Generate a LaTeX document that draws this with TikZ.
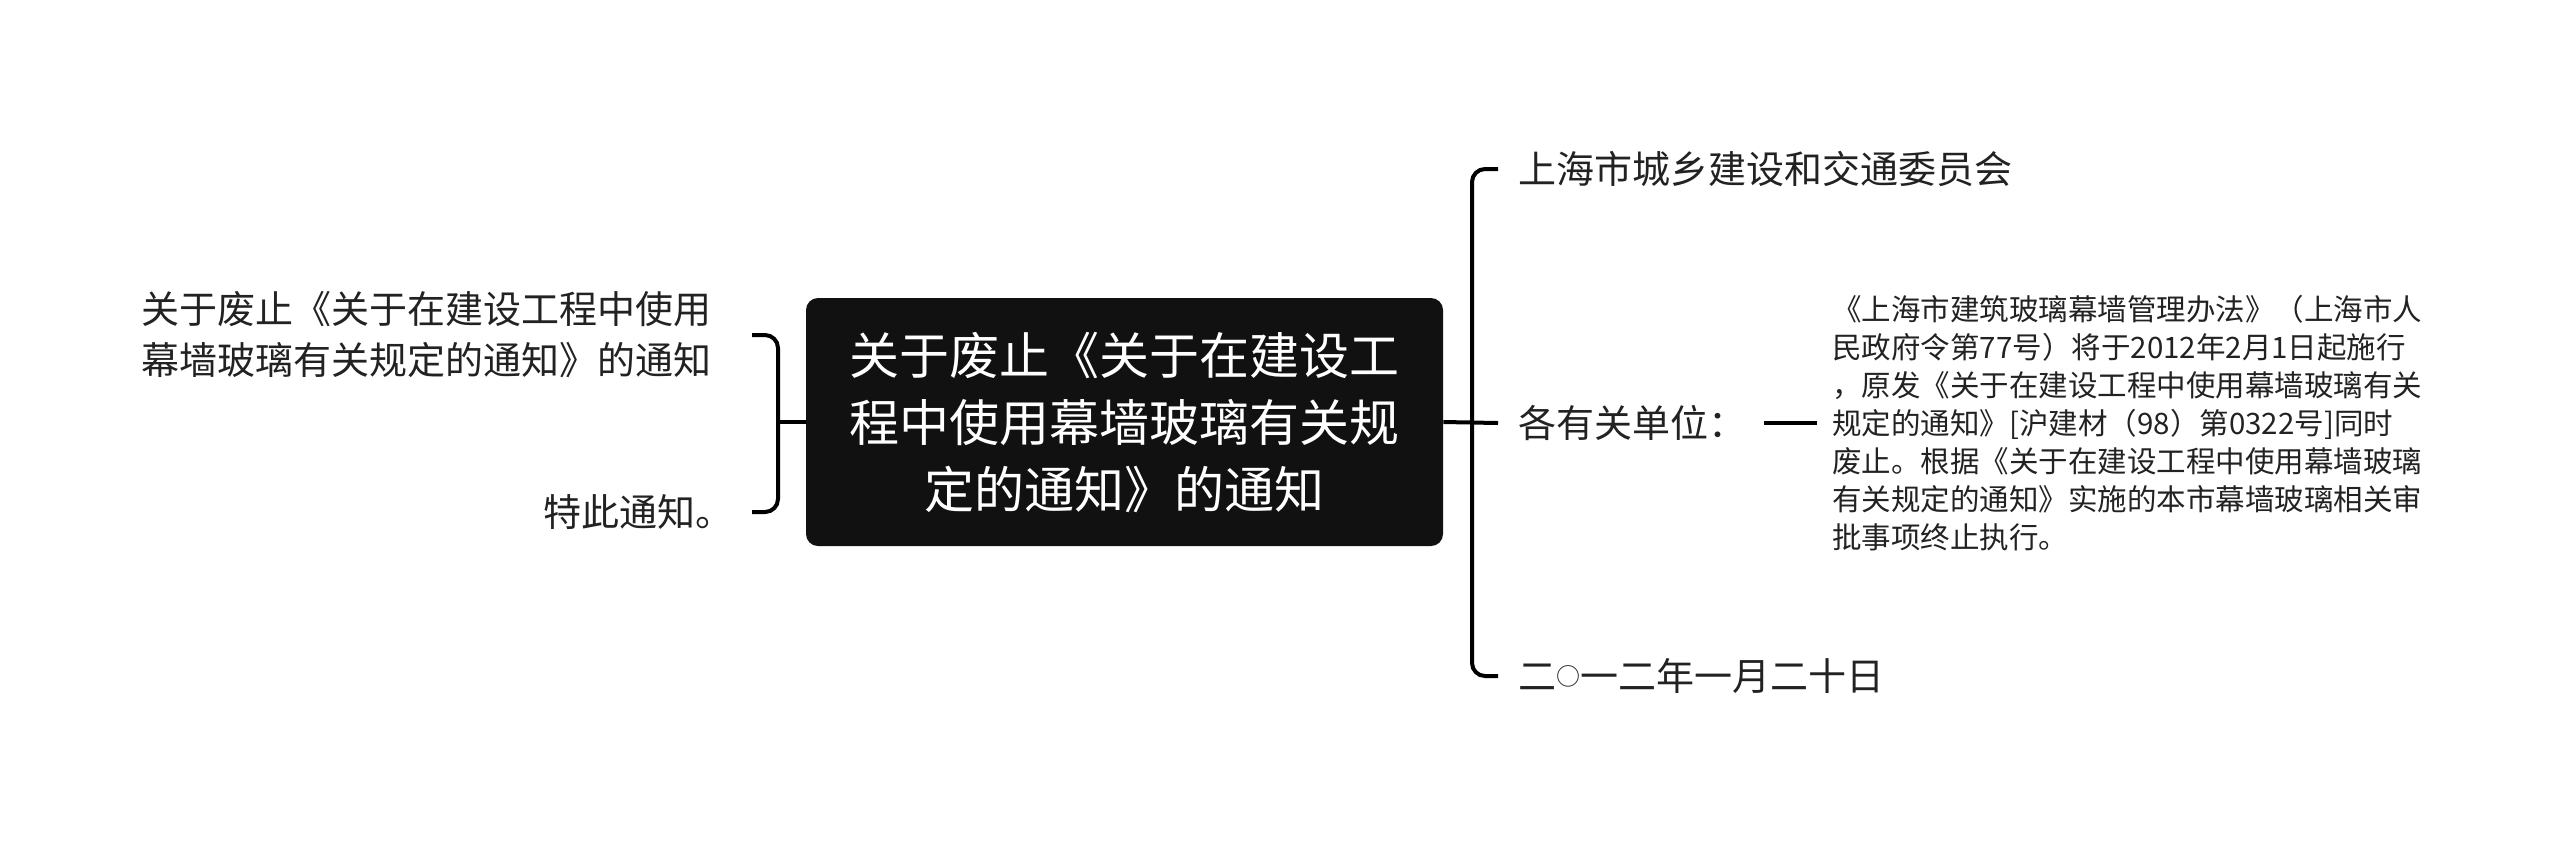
\documentclass[tikz,border=0pt]{standalone}
\usepackage{fontspec}
\setmainfont{Noto Sans CJK SC}
\usepackage{tikz}
\definecolor{topicfill}{HTML}{111111}
\definecolor{inktext}{HTML}{222222}
\tikzstyle{topic} = [fill=topicfill, text=white, rounded corners=6pt, minimum width=318.5pt, minimum height=124pt, align=center, inner sep=0pt, font=\fontsize{25pt}{33.5pt}\selectfont]
\tikzstyle{leaf} = [text=inktext, inner sep=0pt, font=\fontsize{19pt}{25.5pt}\selectfont]
\tikzstyle{detail} = [text=inktext, inner sep=0pt, align=left, font=\fontsize{14.75pt}{19pt}\selectfont]
\tikzstyle{branch} = [line width=2pt, black, rounded corners=6.5pt]
\newcommand{\smallring}{\raisebox{2.6pt}{\fontsize{12pt}{12pt}\selectfont ○}}

\begin{document}
\begin{tikzpicture}[x=0.5pt,y=-0.5pt]
			\useasboundingbox (0,0) rectangle (2560,848);
			% centre
			\node[topic] (topic) at (1124.5,422) {关于废止《关于在建设工\\程中使用幕墙玻璃有关规\\定的通知》的通知};
			% left side
			\node[leaf,align=right,anchor=east] (lnote1) at (712,335) {关于废止《关于在建设工程中使用\\幕墙玻璃有关规定的通知》的通知};
			\node[leaf,anchor=east] (lnote2) at (734,512) {特此通知。};
			\coordinate (lmid) at (778,422);
			\draw[branch] (topic.west) -- (lmid);
			\draw[branch] ([xshift=20pt]lnote1.east) -| (lmid) |- ([xshift=9pt]lnote2.east);
			% right side
			\node[leaf,anchor=west] (org) at (1518,169) {上海市城乡建设和交通委员会};
			\node[leaf,anchor=west] (units) at (1518,423) {各有关单位：};
			\node[leaf,anchor=west] (date) at (1518,676) {二\smallring 一二年一月二十日};
			\node[detail,anchor=west] (detail) at (1832,423) {《上海市建筑玻璃幕墙管理办法》（上海市人\\民政府令第77号）将于2012年2月1日起施行\\，原发《关于在建设工程中使用幕墙玻璃有关\\规定的通知》[沪建材（98）第0322号]同时\\废止。根据《关于在建设工程中使用幕墙玻璃\\有关规定的通知》实施的本市幕墙玻璃相关审\\批事项终止执行。};
			\coordinate (rmid) at (1472,423);
			\draw[branch] (topic.east) -- ([xshift=-10pt]units.west);
			\draw[branch] ([xshift=-10pt]org.west) -| (rmid) |- ([xshift=-10pt]date.west);
			\draw[branch] ([xshift=8.5pt]units.east) -- ([xshift=-7.5pt]detail.west);
		\end{tikzpicture}
\end{document}
